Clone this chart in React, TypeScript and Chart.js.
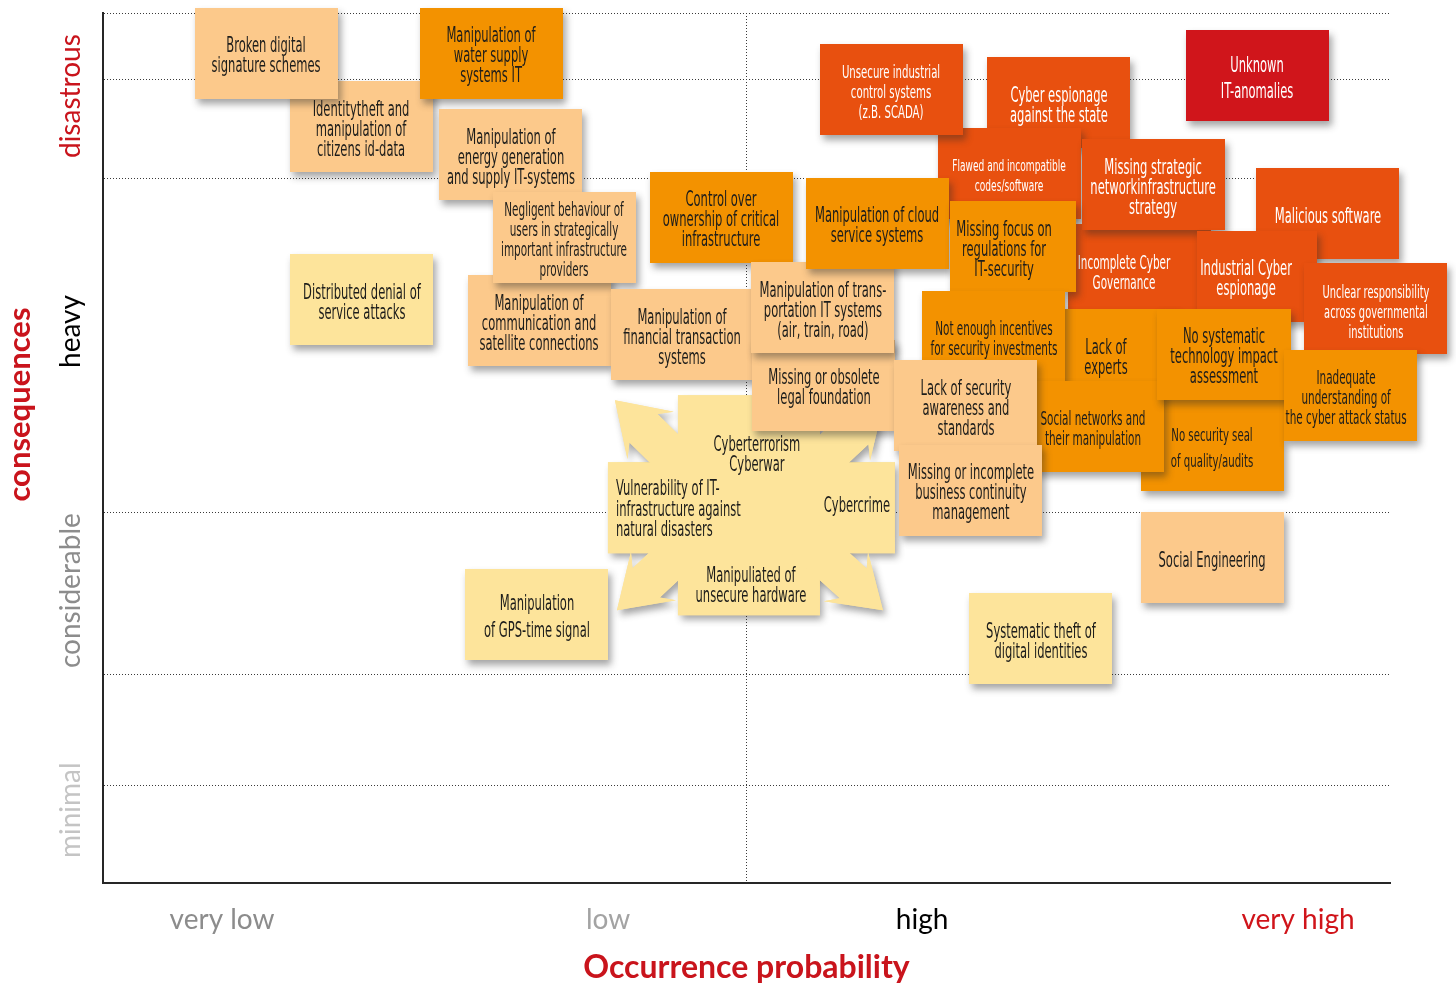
import React, { useEffect, useRef } from "react";
import { Chart, registerables } from "chart.js";

Chart.register(...registerables);

// ---------------- data ----------------
// Risk notes, listed in drawing order (back to front)
const riskNames: string[] = [
  "Identitytheft and\nmanipulation of\ncitizens id-data",
  "Broken digital\nsignature schemes",
  "Manipulation of\nwater supply\nsystems IT",
  "Manipulation of\nenergy generation\nand supply IT-systems",
  "Manipulation of\ncommunication and\nsatellite connections",
  "Negligent behaviour of\nusers in strategically\nimportant infrastructure\nproviders",
  "Distributed denial of\nservice attacks",
  "Manipulation of\nfinancial transaction\nsystems",
  "Control over\nownership of critical\ninfrastructure",
  "Manipulation\nof GPS-time signal",
  "Missing or obsolete\nlegal foundation",
  "Manipulation of trans-\nportation IT systems\n(air, train, road)",
  "Cyber espionage\nagainst the state",
  "Flawed and incompatible\ncodes/software",
  "Unsecure industrial\ncontrol systems\n(z.B. SCADA)",
  "Unknown\nIT-anomalies",
  "Incomplete Cyber\nGovernance",
  "Missing strategic\nnetworkinfrastructure\nstrategy",
  "Manipulation of cloud\nservice systems",
  "Missing focus on\nregulations for\nIT-security",
  "Malicious software",
  "Industrial Cyber\nespionage",
  "Unclear responsibility\nacross governmental\ninstitutions",
  "Lack of\nexperts",
  "Not enough incentives\nfor security investments",
  "No security seal\nof quality/audits",
  "Social networks and\ntheir manipulation",
  "No systematic\ntechnology impact\nassessment",
  "Inadequate\nunderstanding of\nthe cyber attack status",
  "Lack of security\nawareness and\nstandards",
  "Missing or incomplete\nbusiness continuity\nmanagement",
  "Social Engineering",
  "Systematic theft of\ndigital identities",
];

// occurrence probability (0 = lowest, 100 = highest)
const probability: number[] = [
  20.05, 12.67, 30.15, 31.7, 33.88, 35.82, 20.12, 44.99, 48.02, 33.72, 56.02,
  55.94, 74.28, 70.4, 61.23, 89.67, 80.5, 81.59, 60.14, 70.71, 95.18, 89.67,
  98.91, 77.93, 69.23, 86.17, 76.92, 87.1, 96.9, 67.05, 67.44, 86.17, 72.88,
];

// consequences (0 = minimal, 100 = disastrous)
const consequence: number[] = [
  86.9, 95.4, 95.4, 83.7, 64.7, 74.25, 67.1, 63.0, 76.55, 30.9, 57.24, 66.2,
  89.66, 81.6, 91.26, 92.76, 70.46, 80.3, 75.86, 73.2, 77.0, 69.77, 65.98,
  60.69, 62.87, 50.34, 52.47, 60.8, 56.09, 54.83, 45.17, 37.36, 28.05,
];

// overall risk level 1 (low) .. 5 (critical)
const riskLevel: number[] = [
  2, 2, 3, 2, 2, 2, 1, 2, 3, 1, 2, 2, 4, 4, 4, 5, 4, 4, 3, 3, 4, 4, 4, 3, 3, 3,
  3, 3, 3, 2, 2, 2, 1,
];

// cluster of related threats (burst shape)
const clusterTop = "Cyberterrorism\nCyberwar";
const clusterLeft = "Vulnerability of IT-\ninfrastructure against\nnatural disasters";
const clusterRight = "Cybercrime";
const clusterBottom = "Manipuliated of\nunsecure hardware";
const clusterProbability = 50.19;
const clusterConsequence = 43.3;

// axis tick labels
const xTickLabels: string[] = ["very low", "low", "high", "very high"];
const xTickValues: number[] = [9.25, 39.24, 63.64, 92.85];
const xGridValues: number[] = [50];
const yTickLabels: string[] = ["minimal", "considerable", "heavy", "disastrous"];
const yTickValues: number[] = [2.87, 24.71, 59.2, 83.33];
const yGridValues: number[] = [11.15, 23.91, 42.64, 81.03, 92.3, 100];

// ---------------- styling ----------------
const RED = "#c9141c";
const AXIS_FONT = 'Lato, "Open Sans", sans-serif';
const NOTE_FONT =
  '"Liberation Sans Narrow", "Arial Narrow", "DejaVu Sans Condensed", Roboto, sans-serif';
const xTickColors = ["#8c8c8c", "#a3a3a3", "#000000", "#d0141a"];
const yTickColors = ["#c4c4c4", "#8c8c8c", "#000000", RED];
const levelColors = ["#fde49b", "#fcc98b", "#f39200", "#e8500f", "#d0151b"];
const levelText = ["#1d1d1b", "#1d1d1b", "#1d1d1b", "#ffffff", "#ffffff"];
const NOTE_W = 143;
const NOTE_H = 91;
const CLUSTER_LAYER = 10; // cluster drawn just before this note
const noteStyle: Record<number, { fs?: number; lh?: number; w?: number; tx?: number }> = {
  5: { fs: 19 },
  9: { lh: 27 },
  13: { fs: 16.5 },
  14: { fs: 18.5 },
  15: { lh: 26 },
  16: { fs: 19, tx: -15 },
  19: { w: 126, tx: -9 },
  21: { w: 120, tx: -11 },
  22: { fs: 18 },
  24: { fs: 19 },
  25: { fs: 18.5, lh: 26 },
  26: { fs: 19 },
  27: { w: 134 },
  28: { fs: 19, w: 133, tx: -4 },
};

function setShadow(ctx: CanvasRenderingContext2D) {
  ctx.shadowColor = "rgba(40,40,40,0.42)";
  ctx.shadowBlur = 7;
  ctx.shadowOffsetX = 3;
  ctx.shadowOffsetY = 5;
}

function drawLines(
  ctx: CanvasRenderingContext2D,
  lines: string[],
  x: number,
  cy: number,
  fs: number,
  lh: number,
  color: string,
  align: CanvasTextAlign,
  sx: number
) {
  ctx.save();
  ctx.fillStyle = color;
  ctx.font = `${fs}px ${NOTE_FONT}`;
  ctx.textAlign = align;
  ctx.textBaseline = "middle";
  const n = lines.length;
  lines.forEach((ln, k) => {
    const y = cy + 2.5 + (k - (n - 1) / 2) * lh;
    ctx.save();
    ctx.translate(x, y);
    ctx.scale(sx, 1);
    ctx.fillText(ln, 0, 0);
    ctx.restore();
  });
  ctx.restore();
}

function clusterPolys(cx: number, cy: number): [number, number][][] {
  const polys: [number, number][][] = [];
  const rect = (x0: number, y0: number, x1: number, y1: number): [number, number][] => [
    [cx + x0, cy + y0],
    [cx + x1, cy + y0],
    [cx + x1, cy + y1],
    [cx + x0, cy + y1],
  ];
  polys.push(rect(-71, -111, 71, 109));
  polys.push(rect(-141, -44, 146, 47));
  const arrows = [
    { k: [-71, -44], t: [-134, -106] },
    { k: [71, -44], t: [135, -104] },
    { k: [-71, 47], t: [-132, 104] },
    { k: [71, 47], t: [134, 104] },
  ];
  arrows.forEach(({ k, t }) => {
    const dx = t[0] - k[0];
    const dy = t[1] - k[1];
    const L = Math.hypot(dx, dy);
    const ux = dx / L, uy = dy / L;
    const vx = -uy, vy = ux;
    const pt = (a: number, p: number): [number, number] => [
      cx + k[0] + ux * a + vx * p,
      cy + k[1] + uy * a + vy * p,
    ];
    polys.push([
      pt(-20, -20),
      pt(L - 40, -20),
      pt(L - 50, -33),
      pt(L, 0),
      pt(L - 50, 33),
      pt(L - 40, 20),
      pt(-20, 20),
    ]);
  });
  return polys;
}

function drawCluster(ctx: CanvasRenderingContext2D, cx: number, cy: number, sx: number) {
  const polys = clusterPolys(cx, cy);
  const fill = levelColors[0];
  const paint = () =>
    polys.forEach((p) => {
      ctx.beginPath();
      p.forEach(([x, y], i) => (i ? ctx.lineTo(x, y) : ctx.moveTo(x, y)));
      ctx.closePath();
      ctx.fill();
    });
  ctx.save();
  setShadow(ctx);
  ctx.fillStyle = fill;
  paint();
  ctx.restore();
  ctx.save();
  ctx.fillStyle = fill;
  paint();
  ctx.restore();
  const tc = levelText[0];
  drawLines(ctx, clusterTop.split("\n"), cx + 8, cy - 53, 21, 20, tc, "center", sx);
  drawLines(ctx, clusterLeft.split("\n"), cx - 133, cy + 1.5, 21, 20.5, tc, "left", sx);
  drawLines(ctx, clusterRight.split("\n"), cx + 108, cy - 2, 21, 20, tc, "center", sx);
  drawLines(ctx, clusterBottom.split("\n"), cx + 2, cy + 78, 21, 20, tc, "center", sx);
}

const notesPlugin = {
  id: "riskNotes",
  afterDatasetsDraw(chart: any) {
    const ctx = chart.ctx as CanvasRenderingContext2D;
    const notes = chart.getDatasetMeta(0).data;
    const star = chart.getDatasetMeta(1).data[0];
    ctx.save();
    ctx.font = `21px ${NOTE_FONT}`;
    const sx = 109 / ctx.measureText("signature schemes").width;
    ctx.restore();
    notes.forEach((pt: any, i: number) => {
      if (i === CLUSTER_LAYER && star) drawCluster(ctx, star.x, star.y, sx);
      const st = noteStyle[i] || {};
      const w = st.w ?? NOTE_W;
      const lvl = riskLevel[i] - 1;
      ctx.save();
      setShadow(ctx);
      ctx.fillStyle = levelColors[lvl];
      ctx.fillRect(Math.round(pt.x - w / 2), Math.round(pt.y - NOTE_H / 2), w, NOTE_H);
      ctx.restore();
      drawLines(
        ctx,
        riskNames[i].split("\n"),
        pt.x + (st.tx ?? 0),
        pt.y + 1.5,
        st.fs ?? 21,
        st.lh ?? 20,
        levelText[lvl],
        "center",
        sx
      );
    });
  },
};

const yTitlePlugin = {
  id: "yTitle",
  afterDraw(chart: any) {
    const ctx = chart.ctx as CanvasRenderingContext2D;
    const y = chart.scales.y.getPixelForValue(55);
    ctx.save();
    ctx.translate(20, y);
    ctx.rotate(-Math.PI / 2);
    ctx.font = `bold 31px ${AXIS_FONT}`;
    ctx.fillStyle = RED;
    ctx.textAlign = "center";
    ctx.textBaseline = "middle";
    ctx.fillText("consequences", 0, 0);
    ctx.restore();
  },
};

export default function App() {
  const ref = useRef<HTMLCanvasElement | null>(null);
  useEffect(() => {
    if (!ref.current) return;
    const chart = new Chart(ref.current, {
      type: "scatter",
      data: {
        datasets: [
          {
            data: riskNames.map((_, i) => ({ x: probability[i], y: consequence[i] })),
            pointRadius: 0,
            pointHoverRadius: 0,
          },
          {
            data: [{ x: clusterProbability, y: clusterConsequence }],
            pointRadius: 0,
            pointHoverRadius: 0,
          },
        ],
      },
      options: {
        responsive: false,
        animation: false,
        devicePixelRatio: 1,
        events: [],
        layout: { padding: { left: 71, right: 66, top: 13, bottom: 0 } },
        plugins: { legend: { display: false }, tooltip: { enabled: false } },
        scales: {
          x: {
            type: "linear",
            position: "bottom",
            min: 0,
            max: 100,
            afterBuildTicks: (s: any) => {
              s.ticks = [...xTickValues, ...xGridValues]
                .sort((a, b) => a - b)
                .map((v) => ({ value: v }));
            },
            afterFit: (s: any) => {
              s.height = 104;
            },
            ticks: {
              autoSkip: false,
              minRotation: 0,
              maxRotation: 0,
              padding: 20,
              font: { family: AXIS_FONT, size: 28 },
              color: (c: any) => {
                const i = xTickValues.indexOf(c.tick?.value);
                return i >= 0 ? xTickColors[i] : "#000";
              },
              callback: (v: any) => {
                const i = xTickValues.indexOf(v);
                return i >= 0 ? xTickLabels[i] : "";
              },
            },
            grid: {
              drawTicks: false,
              lineWidth: 1,
              color: (c: any) =>
                xGridValues.includes(c.tick?.value) ? "#3a3a3a" : "rgba(0,0,0,0)",
            },
            border: { display: true, color: "#262626", width: 2, dash: [1, 2] },
            title: {
              display: true,
              text: "Occurrence probability",
              color: RED,
              font: { family: AXIS_FONT, size: 32, weight: "bold" },
              padding: { top: 0, bottom: 0 },
            },
          },
          y: {
            type: "linear",
            position: "left",
            min: 0,
            max: 100,
            afterBuildTicks: (s: any) => {
              s.ticks = [...yTickValues, ...yGridValues]
                .sort((a, b) => a - b)
                .map((v) => ({ value: v }));
            },
            afterFit: (s: any) => {
              s.width = 32;
            },
            ticks: {
              autoSkip: false,
              minRotation: 90,
              maxRotation: 90,
              mirror: true,
              crossAlign: "near",
              padding: -32,
              font: { family: AXIS_FONT, size: 28, lineHeight: 0.4 },
              color: (c: any) => {
                const i = yTickValues.indexOf(c.tick?.value);
                return i >= 0 ? yTickColors[i] : "#000";
              },
              callback: (v: any) => {
                const i = yTickValues.indexOf(v);
                return i >= 0 ? yTickLabels[i] : "";
              },
            },
            grid: {
              drawTicks: false,
              lineWidth: 1,
              color: (c: any) =>
                yGridValues.includes(c.tick?.value) ? "#3a3a3a" : "rgba(0,0,0,0)",
            },
            border: { display: true, color: "#262626", width: 2, dash: [1, 2] },
          },
        },
      } as any,
      plugins: [notesPlugin, yTitlePlugin],
    });
    return () => chart.destroy();
  }, []);

  return (
    <div
      style={{
        position: "fixed",
        left: 0,
        top: 0,
        width: 1456,
        height: 987,
        background: "#ffffff",
      }}
    >
      <canvas
        ref={ref}
        width={1456}
        height={987}
        style={{ display: "block", width: 1456, height: 987 }}
      />
    </div>
  );
}
